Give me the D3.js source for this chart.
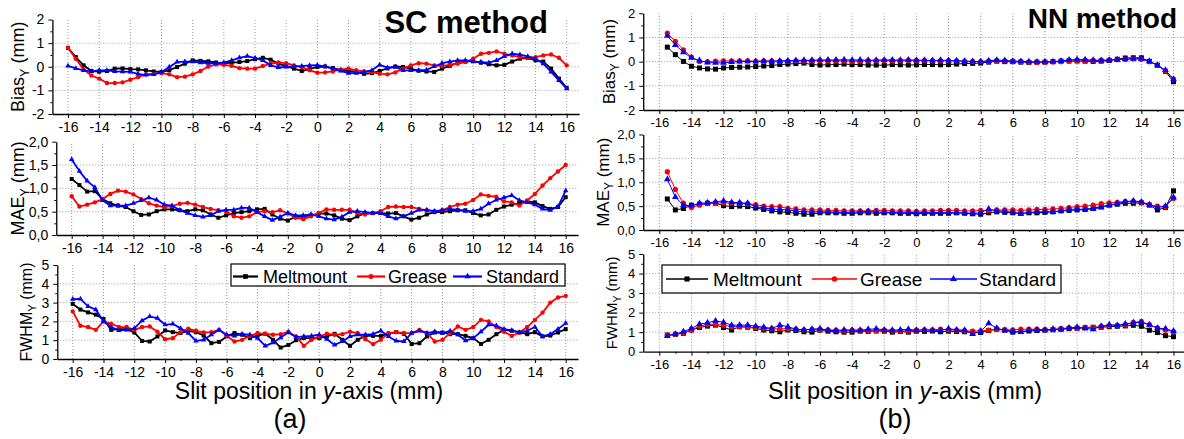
<!DOCTYPE html>
<html>
<head>
<meta charset="utf-8">
<script src="https://cdn.jsdelivr.net/npm/d3@7"></script>
<style>
  body { margin: 0; background: #fff; }
  svg { display: block; font-family: "Liberation Sans", Arial, sans-serif; }
</style>
</head>
<body>
<svg id="chart" width="1184" height="439"></svg>
<script>
// slit positions (mm)
const posA = [
  -16, -15.5, -15, -14.5, -14, -13.5, -13, -12.5, -12, -11.5,
  -11, -10.5, -10, -9.5, -9, -8.5, -8, -7.5, -7, -6.5,
  -6, -5.5, -5, -4.5, -4, -3.5, -3, -2.5, -2, -1.5,
  -1, -0.5, 0, 0.5, 1, 1.5, 2, 2.5, 3, 3.5,
  4, 4.5, 5, 5.5, 6, 6.5, 7, 7.5, 8, 8.5,
  9, 9.5, 10, 10.5, 11, 11.5, 12, 12.5, 13, 13.5,
  14, 14.5, 15, 15.5, 16
];
const posB = [
  -15.5, -15, -14.5, -14, -13.5, -13, -12.5, -12,
  -11.5, -11, -10.5, -10, -9.5, -9, -8.5, -8,
  -7.5, -7, -6.5, -6, -5.5, -5, -4.5, -4,
  -3.5, -3, -2.5, -2, -1.5, -1, -0.5, 0,
  0.5, 1, 1.5, 2, 2.5, 3, 3.5, 4,
  4.5, 5, 5.5, 6, 6.5, 7, 7.5, 8,
  8.5, 9, 9.5, 10, 10.5, 11, 11.5, 12,
  12.5, 13, 13.5, 14, 14.5, 15, 15.5, 16
];

const seriesNames = ["Meltmount", "Grease", "Standard"];
const xTicks = [-16, -14, -12, -10, -8, -6, -4, -2, 0, 2, 4, 6, 8, 10, 12, 14, 16];
const xMinor = [-15, -13, -11, -9, -7, -5, -3, -1, 1, 3, 5, 7, 9, 11, 13, 15];
const biasTicks = [-2, -1, 0, 1, 2];
const maeTicks = [0, 0.5, 1, 1.5, 2];
const fwhmTicks = [0, 1, 2, 3, 4, 5];

// ---- (a) SC method ----
const biasA_melt = [
  0.8, 0.41, 0.06, -0.18, -0.21, -0.18, -0.08, -0.07, -0.1, -0.11,
  -0.15, -0.2, -0.22, -0.15, -0.01, 0.13, 0.27, 0.25, 0.23, 0.18,
  0.14, 0.18, 0.2, 0.24, 0.32, 0.38, 0.3, 0.13, 0.03, -0.08,
  -0.18, -0.1, -0.01, 0.01, -0.06, -0.14, -0.18, -0.22, -0.3, -0.27,
  -0.18, -0.07, 0.01, -0.01, -0.08, -0.17, -0.2, -0.22, -0.08, 0.04,
  0.17, 0.22, 0.24, 0.17, 0.11, 0.06, 0.08, 0.22, 0.34, 0.37,
  0.27, 0.22, -0.08, -0.5, -0.89
];
const biasA_grease = [
  0.8, 0.34, -0.11, -0.37, -0.5, -0.69, -0.69, -0.66, -0.55, -0.44,
  -0.32, -0.3, -0.27, -0.32, -0.44, -0.42, -0.32, -0.18, 0.01, 0.1,
  0.08, 0.04, -0.06, -0.08, -0.08, 0.03, 0.13, 0.18, 0.15, 0.06,
  -0.01, -0.15, -0.25, -0.24, -0.2, -0.11, -0.08, -0.15, -0.2, -0.22,
  -0.3, -0.32, -0.24, -0.08, 0.06, 0.15, 0.13, 0.06, 0.03, 0.08,
  0.13, 0.2, 0.34, 0.55, 0.59, 0.65, 0.55, 0.48, 0.41, 0.38,
  0.41, 0.48, 0.52, 0.38, 0.06
];
const biasA_standard = [
  0.04, -0.07, -0.15, -0.2, -0.15, -0.15, -0.2, -0.21, -0.22, -0.3,
  -0.35, -0.32, -0.22, -0.01, 0.2, 0.22, 0.22, 0.17, 0.15, 0.14,
  0.17, 0.27, 0.38, 0.45, 0.37, 0.27, 0.06, -0.03, -0.01, 0.01,
  0.03, 0.06, 0.07, 0.01, -0.08, -0.18, -0.27, -0.27, -0.22, -0.15,
  0.08, -0.04, -0.01, -0.15, -0.15, -0.15, -0.13, 0.01, 0.15, 0.22,
  0.27, 0.27, 0.22, 0.2, 0.17, 0.27, 0.44, 0.55, 0.51, 0.44,
  0.34, 0.13, -0.22, -0.58, -0.93
];
const maeA_melt = [
  1.2, 1.07, 0.93, 0.94, 0.77, 0.68, 0.63, 0.6, 0.51, 0.43,
  0.44, 0.51, 0.55, 0.55, 0.53, 0.51, 0.55, 0.53, 0.44, 0.37,
  0.42, 0.47, 0.49, 0.51, 0.55, 0.56, 0.44, 0.35, 0.31, 0.39,
  0.4, 0.42, 0.46, 0.46, 0.42, 0.35, 0.32, 0.4, 0.47, 0.47,
  0.47, 0.46, 0.47, 0.4, 0.33, 0.37, 0.44, 0.49, 0.49, 0.51,
  0.53, 0.53, 0.47, 0.42, 0.44, 0.54, 0.61, 0.65, 0.68, 0.72,
  0.7, 0.62, 0.56, 0.6, 0.81
];
const maeA_grease = [
  0.83, 0.61, 0.65, 0.7, 0.77, 0.88, 0.95, 0.93, 0.87, 0.77,
  0.68, 0.63, 0.6, 0.62, 0.67, 0.69, 0.65, 0.6, 0.56, 0.53,
  0.51, 0.4, 0.37, 0.4, 0.49, 0.51, 0.49, 0.53, 0.46, 0.37,
  0.34, 0.4, 0.47, 0.55, 0.54, 0.54, 0.54, 0.47, 0.44, 0.47,
  0.51, 0.6, 0.61, 0.6, 0.6, 0.56, 0.53, 0.51, 0.53, 0.6,
  0.65, 0.67, 0.75, 0.87, 0.84, 0.82, 0.72, 0.7, 0.63, 0.74,
  0.88, 1.06, 1.22, 1.36, 1.5
];
const maeA_standard = [
  1.62, 1.37, 1.16, 1.02, 0.74, 0.63, 0.63, 0.63, 0.68, 0.74,
  0.8, 0.75, 0.65, 0.63, 0.53, 0.47, 0.42, 0.39, 0.42, 0.51,
  0.54, 0.54, 0.58, 0.58, 0.49, 0.4, 0.32, 0.39, 0.47, 0.42,
  0.42, 0.44, 0.4, 0.35, 0.33, 0.39, 0.49, 0.51, 0.49, 0.47,
  0.47, 0.4, 0.35, 0.4, 0.47, 0.54, 0.54, 0.51, 0.53, 0.56,
  0.54, 0.51, 0.51, 0.56, 0.67, 0.75, 0.8, 0.85, 0.74, 0.7,
  0.65, 0.56, 0.53, 0.61, 0.95
];
const fwhmA_melt = [
  2.93, 2.63, 2.48, 2.36, 2.13, 1.55, 1.59, 1.59, 1.41, 0.96,
  0.93, 1.2, 1.52, 1.43, 1.38, 1.5, 1.43, 1.25, 0.84, 0.91,
  1.2, 1.38, 1.29, 1.11, 1.25, 1.34, 1.02, 0.61, 0.75, 1.0,
  1.11, 1.11, 1.11, 1.2, 1.34, 1.02, 0.7, 1.02, 1.23, 1.23,
  1.23, 1.34, 1.43, 1.34, 0.8, 0.84, 1.2, 1.41, 1.41, 1.32,
  1.32, 1.23, 1.11, 0.8, 1.02, 1.32, 1.55, 1.5, 1.41, 1.32,
  1.43, 1.2, 1.25, 1.41, 1.59
];
const fwhmA_grease = [
  2.53, 1.77, 1.7, 1.55, 2.0, 1.87, 1.7, 1.7, 1.55, 1.7,
  1.73, 1.45, 1.05, 1.11, 1.43, 1.61, 1.5, 1.41, 1.43, 1.55,
  1.23, 0.93, 1.02, 1.23, 1.38, 1.34, 1.29, 1.32, 1.45, 1.2,
  0.7, 1.02, 1.2, 1.34, 1.29, 1.32, 1.45, 1.38, 1.05, 0.79,
  1.02, 1.38, 1.43, 1.38, 1.38, 1.55, 1.38, 0.93, 1.02, 1.38,
  1.73, 1.55, 1.7, 2.08, 2.0, 1.7, 1.45, 1.23, 1.41, 1.7,
  2.08, 2.47, 3.0, 3.27, 3.36
];
const fwhmA_standard = [
  3.18, 3.2, 2.8, 2.63, 2.0, 1.7, 1.52, 1.55, 1.63, 2.04,
  2.26, 2.17, 1.82, 1.87, 1.63, 1.38, 0.96, 1.02, 1.29, 1.55,
  1.29, 1.23, 1.32, 1.29, 1.11, 0.7, 0.87, 1.14, 1.41, 1.16,
  1.2, 1.23, 1.29, 1.05, 0.75, 0.93, 1.2, 1.29, 1.29, 1.32,
  1.5, 1.2, 0.96, 0.93, 1.38, 1.5, 1.38, 1.45, 1.38, 1.5,
  1.29, 0.98, 1.11, 1.45, 1.82, 1.77, 1.59, 1.52, 1.41, 1.5,
  1.7, 1.2, 1.32, 1.59, 1.91
];

// ---- (b) NN method ----
const biasB_melt = [
  0.6, 0.29, 0.01, -0.19, -0.26, -0.3, -0.31, -0.26,
  -0.24, -0.23, -0.22, -0.2, -0.18, -0.16, -0.12, -0.1,
  -0.08, -0.06, -0.12, -0.14, -0.13, -0.12, -0.1, -0.12,
  -0.12, -0.14, -0.14, -0.15, -0.12, -0.13, -0.14, -0.13,
  -0.12, -0.12, -0.13, -0.12, -0.1, -0.08, -0.07, -0.06,
  -0.02, 0.02, 0.0, 0.0, -0.02, -0.03, -0.02, -0.02,
  0.0, 0.02, 0.03, 0.03, 0.02, 0.01, 0.02, 0.05,
  0.1, 0.15, 0.16, 0.16, 0.01, -0.15, -0.4, -0.83
];
const biasB_grease = [
  1.18, 0.84, 0.49, 0.19, 0.01, 0.0, 0.02, 0.03,
  0.03, 0.03, 0.03, 0.02, 0.03, 0.03, 0.02, 0.02,
  0.03, 0.03, 0.04, 0.05, 0.04, 0.04, 0.03, 0.02,
  0.03, 0.04, 0.05, 0.05, 0.04, 0.05, 0.06, 0.05,
  0.05, 0.04, 0.04, 0.04, 0.03, 0.02, 0.01, 0.0,
  0.02, 0.03, 0.03, 0.02, 0.0, -0.02, -0.03, -0.02,
  -0.01, 0.0, 0.02, 0.03, 0.04, 0.05, 0.06, 0.07,
  0.08, 0.1, 0.12, 0.1, 0.0, -0.15, -0.38, -0.72
];
const biasB_standard = [
  1.07, 0.69, 0.39, 0.16, 0.05, -0.04, -0.05, -0.05,
  -0.02, 0.0, 0.01, 0.0, 0.02, 0.02, 0.03, 0.04,
  0.05, 0.06, 0.06, 0.07, 0.07, 0.07, 0.08, 0.07,
  0.07, 0.06, 0.06, 0.07, 0.07, 0.06, 0.07, 0.06,
  0.06, 0.05, 0.06, 0.05, 0.04, 0.02, 0.01, 0.0,
  0.04, 0.06, 0.05, 0.02, 0.01, 0.0, -0.01, -0.01,
  0.0, 0.03, 0.07, 0.09, 0.08, 0.06, 0.05, 0.06,
  0.08, 0.1, 0.12, 0.12, 0.02, -0.15, -0.35, -0.73
];
const maeB_melt = [
  0.65, 0.42, 0.45, 0.52, 0.54, 0.56, 0.56, 0.51,
  0.49, 0.5, 0.49, 0.46, 0.43, 0.4, 0.38, 0.37,
  0.35, 0.33, 0.33, 0.36, 0.36, 0.36, 0.35, 0.35,
  0.36, 0.36, 0.35, 0.36, 0.36, 0.35, 0.35, 0.34,
  0.35, 0.35, 0.35, 0.35, 0.36, 0.35, 0.34, 0.33,
  0.36, 0.38, 0.37, 0.36, 0.35, 0.36, 0.36, 0.37,
  0.38, 0.4, 0.41, 0.42, 0.43, 0.46, 0.49, 0.52,
  0.54, 0.56, 0.56, 0.57, 0.52, 0.42, 0.47, 0.82
];
const maeB_grease = [
  1.22, 0.85, 0.56, 0.47, 0.52, 0.56, 0.56, 0.57,
  0.56, 0.56, 0.55, 0.53, 0.5, 0.49, 0.49, 0.45,
  0.44, 0.42, 0.42, 0.42, 0.41, 0.41, 0.4, 0.4,
  0.4, 0.4, 0.41, 0.41, 0.4, 0.4, 0.4, 0.39,
  0.4, 0.4, 0.41, 0.41, 0.41, 0.4, 0.4, 0.41,
  0.41, 0.42, 0.42, 0.42, 0.41, 0.42, 0.43, 0.43,
  0.44, 0.45, 0.47, 0.49, 0.5, 0.52, 0.55, 0.57,
  0.58, 0.6, 0.6, 0.58, 0.53, 0.5, 0.49, 0.66
];
const maeB_standard = [
  1.06, 0.69, 0.52, 0.51, 0.56, 0.57, 0.59, 0.61,
  0.58, 0.57, 0.56, 0.49, 0.46, 0.44, 0.43, 0.42,
  0.4, 0.38, 0.38, 0.38, 0.38, 0.37, 0.37, 0.37,
  0.38, 0.39, 0.38, 0.37, 0.37, 0.37, 0.37, 0.36,
  0.37, 0.36, 0.37, 0.37, 0.36, 0.36, 0.35, 0.36,
  0.44, 0.4, 0.39, 0.37, 0.34, 0.37, 0.38, 0.38,
  0.38, 0.4, 0.43, 0.44, 0.43, 0.44, 0.47, 0.52,
  0.56, 0.59, 0.61, 0.59, 0.53, 0.47, 0.5, 0.68
];
const fwhmB_melt = [
  0.85, 0.89, 0.94, 1.11, 1.24, 1.31, 1.36, 1.24,
  1.11, 1.28, 1.25, 1.19, 1.11, 1.07, 1.02, 1.11,
  1.08, 1.02, 1.0, 1.1, 1.05, 1.02, 1.0, 1.0,
  1.05, 1.04, 1.06, 1.05, 1.0, 1.03, 1.0, 1.05,
  1.04, 1.06, 1.02, 1.05, 1.03, 1.02, 1.0, 0.98,
  1.08, 1.15, 1.1, 1.0, 1.03, 1.06, 1.08, 1.1,
  1.12, 1.15, 1.18, 1.2, 1.22, 1.25, 1.25, 1.28,
  1.3, 1.32, 1.35, 1.3, 1.1, 0.98, 0.82, 0.77
];
const fwhmB_grease = [
  0.85, 0.9, 0.97, 1.11, 1.31, 1.4, 1.4, 1.36,
  1.28, 1.28, 1.26, 1.24, 1.2, 1.18, 1.17, 1.18,
  1.15, 1.12, 1.14, 1.12, 1.12, 1.1, 1.08, 1.1,
  1.1, 1.08, 1.07, 1.1, 1.08, 1.06, 1.07, 1.1,
  1.12, 1.12, 1.15, 1.12, 1.1, 1.08, 1.05, 1.07,
  1.1, 1.15, 1.12, 1.12, 1.15, 1.15, 1.15, 1.12,
  1.15, 1.18, 1.22, 1.2, 1.25, 1.25, 1.28, 1.32,
  1.35, 1.38, 1.5, 1.55, 1.38, 1.22, 1.1, 1.02
];
const fwhmB_standard = [
  0.8, 0.9, 1.02, 1.19, 1.41, 1.48, 1.58, 1.5,
  1.36, 1.36, 1.36, 1.31, 1.25, 1.19, 1.36, 1.28,
  1.15, 1.12, 1.15, 1.18, 1.1, 1.08, 1.12, 1.1,
  1.1, 1.15, 1.17, 1.12, 1.1, 1.12, 1.15, 1.1,
  1.12, 1.1, 1.08, 1.18, 1.12, 1.1, 0.9, 1.05,
  1.45, 1.2, 1.1, 1.05, 1.0, 1.1, 1.12, 1.12,
  1.15, 1.15, 1.22, 1.25, 1.2, 1.15, 1.3, 1.38,
  1.35, 1.42, 1.48, 1.5, 1.38, 1.2, 1.18, 1.05
];

const colors = ["#000000", "#ff0000", "#0000ff"];
const shapes = [d3.symbolSquare, d3.symbolCircle, d3.symbolTriangle];

const svg = d3.select("#chart");
const intFmt = d => String(d);
const commaFmt = d => d.toFixed(1).replace(".", ",");

function subplot(cfg) {
  const g = svg.append("g");
  // -16 and 16 pixel anchors, extended to the axis ends
  const xs = d3.scaleLinear().domain([-16, 16]).range([cfg.x16n, cfg.x16]);
  const x = xs.copy().domain([-17, cfg.xEnd]).range([xs(-17), xs(cfg.xEnd)]);
  const y = d3.scaleLinear().domain(cfg.yDomain).range([cfg.yBot, cfg.yTop]);

  // dotted grid
  const grid = g.append("g").attr("stroke", "#9a9a9a").attr("stroke-width", 1)
    .attr("stroke-dasharray", "1,2");
  grid.selectAll("line.v").data(xTicks).join("line")
    .attr("x1", d => x(d)).attr("x2", d => x(d))
    .attr("y1", y(cfg.yDomain[0])).attr("y2", y(cfg.yDomain[1]));
  grid.selectAll("line.h").data(cfg.yTicks.slice(1, -1)).join("line")
    .attr("x1", x(-17)).attr("x2", x(cfg.xEnd))
    .attr("y1", d => y(d)).attr("y2", d => y(d));

  if (cfg.legend) cfg.legend(g);

  // axes
  const xa = g.append("g").attr("transform", `translate(0,${y(cfg.yDomain[0])})`)
    .call(d3.axisBottom(x).tickValues(xTicks).tickFormat(intFmt).tickSize(4).tickPadding(4).tickSizeOuter(0));
  g.append("g").attr("transform", `translate(0,${y(cfg.yDomain[0])})`)
    .call(d3.axisBottom(x).tickValues(xMinor).tickFormat("").tickSize(2).tickSizeOuter(0))
    .call(a => a.select(".domain").remove());
  const ya = g.append("g").attr("transform", `translate(${x(-17)},0)`)
    .call(d3.axisLeft(y).tickValues(cfg.yTicks).tickFormat(cfg.fmt).tickSize(4).tickPadding(4).tickSizeOuter(0));
  g.append("g").attr("transform", `translate(${x(-17)},0)`)
    .call(d3.axisLeft(y).tickValues(cfg.yMinor).tickFormat("").tickSize(2).tickSizeOuter(0))
    .call(a => a.select(".domain").remove());
  [xa, ya].forEach(a => {
    a.attr("font-family", null).attr("font-size", cfg.tickSize);
    a.select(".domain").attr("stroke-width", 1.3);
    a.selectAll("text").attr("fill", "#000");
  });

  // y title with subscript
  const t = g.append("text")
    .attr("transform", `translate(${cfg.labelX},${(cfg.yTop + cfg.yBot) / 2}) rotate(-90)`)
    .attr("text-anchor", "middle").attr("font-size", cfg.labelSize);
  t.append("tspan").text(cfg.label);
  t.append("tspan").text("Y").attr("font-size", cfg.labelSize * 0.7).attr("dy", cfg.labelSize * 0.25);
  t.append("tspan").text(" (mm)").attr("dy", -cfg.labelSize * 0.25);

  // series
  cfg.data.forEach((vals, i) => {
    if (vals.length !== cfg.pos.length) throw new Error("length mismatch " + cfg.label + i);
    const pts = cfg.pos.map((p, k) => [p, vals[k]]);
    g.append("path").datum(pts)
      .attr("fill", "none").attr("stroke", colors[i]).attr("stroke-width", cfg.lw)
      .attr("stroke-linejoin", "round")
      .attr("d", d3.line().x(d => x(d[0])).y(d => y(d[1])));
    g.append("g").selectAll("path").data(pts).join("path")
      .attr("transform", d => `translate(${x(d[0])},${y(d[1])})`)
      .attr("fill", colors[i])
      .attr("d", d3.symbol(shapes[i], cfg.ms[i]));
  });
}

function legend(box, items, fontSize, lw, ms) {
  return g => {
    g.append("rect").attr("x", box[0]).attr("y", box[1])
      .attr("width", box[2] - box[0]).attr("height", box[3] - box[1])
      .attr("fill", "#fff").attr("stroke", "#000").attr("stroke-width", 1.2);
    items.forEach((it, i) => {
      g.append("line").attr("x1", it[0]).attr("x2", it[1]).attr("y1", box[4]).attr("y2", box[4])
        .attr("stroke", colors[i]).attr("stroke-width", lw);
      g.append("path").attr("transform", `translate(${(it[0] + it[1]) / 2},${box[4]})`)
        .attr("fill", colors[i]).attr("d", d3.symbol(shapes[i], ms[i]));
      g.append("text").attr("x", it[2]).attr("y", box[5]).attr("font-size", fontSize)
        .text(seriesNames[i]);
    });
  };
}

const msA = [16, 15, 13];
const msB = [25, 22, 20];

// (a)
subplot({ pos: posA, x16n: 68, x16: 566.7, xEnd: 16.8, yTop: 19.5, yBot: 114,
  yDomain: [-2, 2], yTicks: biasTicks, yMinor: [-1.5, -0.5, 0.5, 1.5], fmt: intFmt,
  label: "Bias", labelX: 24, labelSize: 18, tickSize: 14, lw: 1.8, ms: msA,
  data: [biasA_melt, biasA_grease, biasA_standard] });
subplot({ pos: posA, x16n: 71.7, x16: 565.7, xEnd: 16.8, yTop: 141.7, yBot: 235,
  yDomain: [0, 2], yTicks: maeTicks, yMinor: [0.25, 0.75, 1.25, 1.75], fmt: commaFmt,
  label: "MAE", labelX: 24, labelSize: 18, tickSize: 14, lw: 1.8, ms: msA,
  data: [maeA_melt, maeA_grease, maeA_standard] });
subplot({ pos: posA, x16n: 72.7, x16: 565.7, xEnd: 16.8, yTop: 265, yBot: 359,
  yDomain: [0, 5], yTicks: fwhmTicks, yMinor: [0.5, 1.5, 2.5, 3.5, 4.5], fmt: intFmt,
  label: "FWHM", labelX: 32, labelSize: 16, tickSize: 14, lw: 1.8, ms: msA,
  data: [fwhmA_melt, fwhmA_grease, fwhmA_standard],
  legend: legend([231, 264, 565, 286, 276.5, 282.5],
    [[233, 258, 263], [357, 385, 388], [453, 482, 486]], 18, 2.2, [22, 20, 18]) });

// (b)
subplot({ pos: posB, x16n: 659.3, x16: 1173.5, xEnd: 16.8, yTop: 13.3, yBot: 110,
  yDomain: [-2, 2], yTicks: biasTicks, yMinor: [-1.5, -0.5, 0.5, 1.5], fmt: intFmt,
  label: "Bias", labelX: 615, labelSize: 17, tickSize: 13, lw: 1, ms: msB,
  data: [biasB_melt, biasB_grease, biasB_standard] });
subplot({ pos: posB, x16n: 659.3, x16: 1173.5, xEnd: 16.8, yTop: 134.5, yBot: 230,
  yDomain: [0, 2], yTicks: maeTicks, yMinor: [0.25, 0.75, 1.25, 1.75], fmt: commaFmt,
  label: "MAE", labelX: 609, labelSize: 17, tickSize: 13, lw: 1, ms: msB,
  data: [maeB_melt, maeB_grease, maeB_standard] });
subplot({ pos: posB, x16n: 659.3, x16: 1173.5, xEnd: 16.8, yTop: 254, yBot: 351.7,
  yDomain: [0, 5], yTicks: fwhmTicks, yMinor: [0.5, 1.5, 2.5, 3.5, 4.5], fmt: intFmt,
  label: "FWHM", labelX: 617, labelSize: 15, tickSize: 13, lw: 1, ms: msB,
  data: [fwhmB_melt, fwhmB_grease, fwhmB_standard],
  legend: legend([662, 265, 1061, 293, 279, 286],
    [[666, 708, 713], [812, 857, 860], [930, 977, 979]], 19, 1.3, [26, 24, 22]) });

// titles
svg.append("text").attr("x", 548).attr("y", 33).attr("text-anchor", "end")
  .attr("font-size", 31).attr("font-weight", "bold").text("SC method");
svg.append("text").attr("x", 1177).attr("y", 28).attr("text-anchor", "end")
  .attr("font-size", 28).attr("font-weight", "bold").text("NN method");

[[309, 23, 290, "(a)"], [905, 23.5, 895, "(b)"]].forEach(([cx, fs, lx, lab]) => {
  const t = svg.append("text").attr("x", cx).attr("y", 399).attr("text-anchor", "middle")
    .attr("font-size", fs);
  t.append("tspan").text("Slit position in ");
  t.append("tspan").attr("font-style", "italic").text("y");
  t.append("tspan").text("-axis (mm)");
  svg.append("text").attr("x", lx).attr("y", 428).attr("text-anchor", "middle")
    .attr("font-size", 27).text(lab);
});
</script>
</body>
</html>
